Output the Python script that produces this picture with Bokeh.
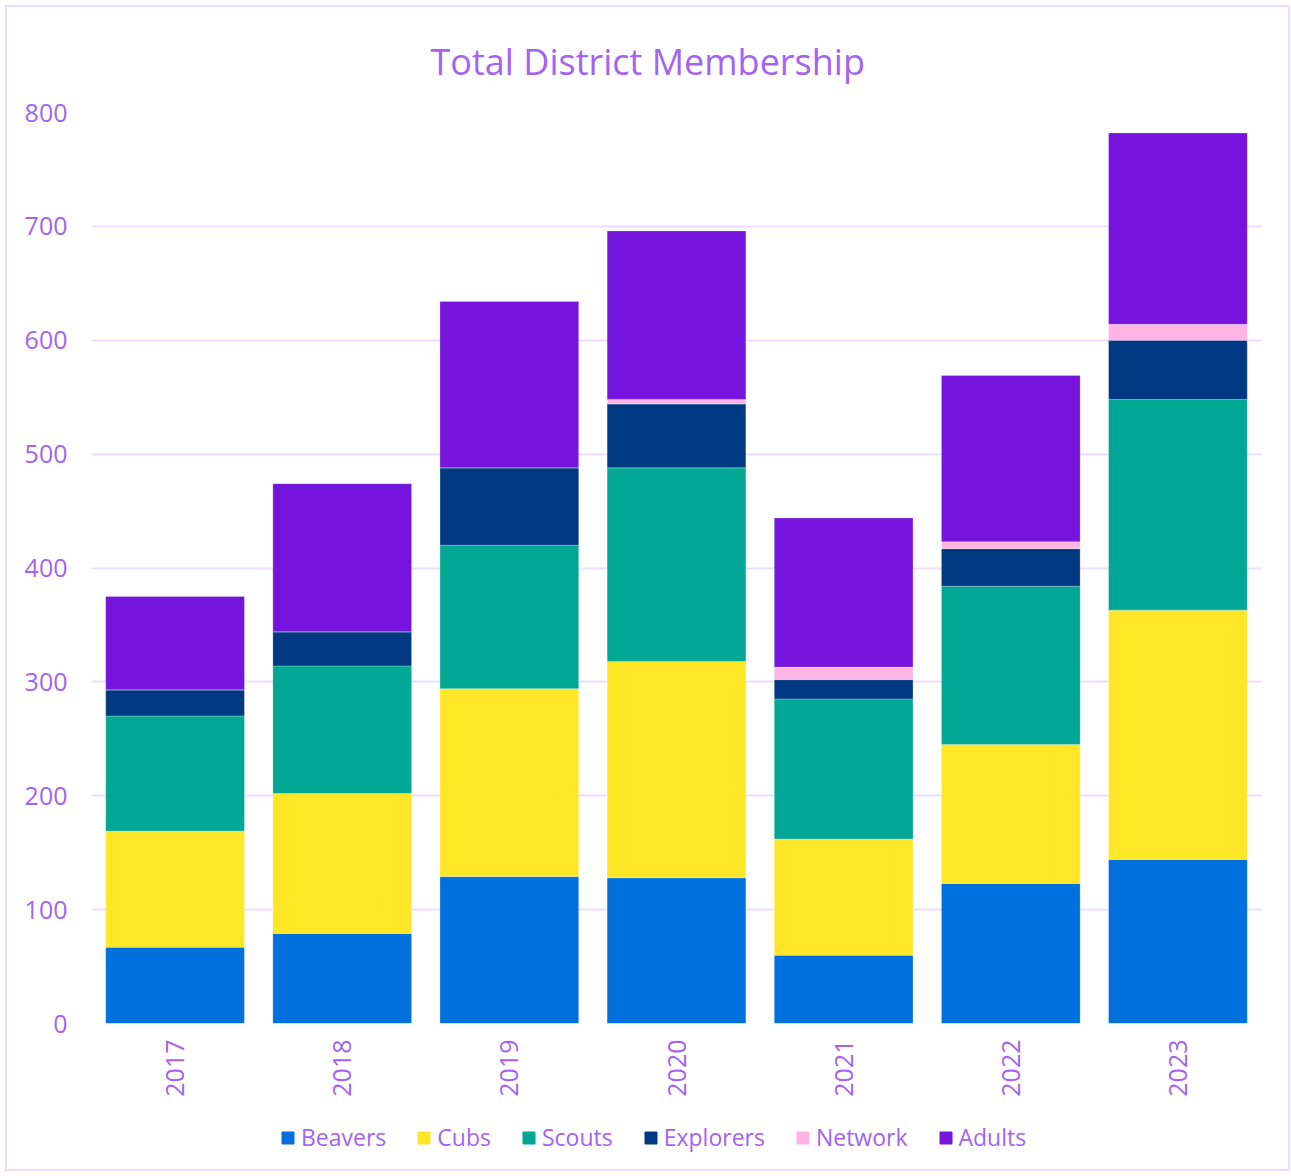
import math
from bokeh.plotting import figure
from bokeh.layouts import column
from bokeh.models import (ColumnDataSource, Legend, LegendItem, SingleIntervalTicker,
                          NumeralTickFormatter, Range1d)
from bokeh.embed import file_html
from bokeh.resources import INLINE

years = ["2017", "2018", "2019", "2020", "2021", "2022", "2023"]
sections = ["Beavers", "Cubs", "Scouts", "Explorers", "Network", "Adults"]
beavers = [67, 79, 129, 128, 60, 123, 144]
cubs = [102, 123, 165, 190, 102, 122, 219]
scouts = [101, 112, 126, 170, 123, 139, 185]
explorers = [23, 30, 68, 56, 17, 33, 52]
network = [0, 0, 0, 4, 11, 6, 14]
adults = [82, 130, 146, 148, 131, 146, 168]
colors = ["#0070DD", "#FFE627", "#00A794", "#003982", "#FFB4E5", "#7414DC"]
title_text = "Total District Membership"

source = ColumnDataSource(dict(year=years, Beavers=beavers, Cubs=cubs, Scouts=scouts,
                               Explorers=explorers, Network=network, Adults=adults))

TXT = "#A463F2"
GRID = "#EDDCFF"
FONT = "Open Sans"

# main chart
p = figure(x_range=years, y_range=(0, 800), width=1281, height=1102,
           output_backend="svg", toolbar_location=None,
           title=title_text,
           min_border_left=84, min_border_right=27, min_border_top=102, min_border_bottom=86)

p.vbar_stack(sections, x="year", width=0.83, color=colors, source=source,
             line_color="white", line_alpha=0.25, line_width=1)

p.title.align = "left"
p.title.text_font = FONT
p.title.text_font_style = "normal"
p.title.text_font_size = "36px"
p.title.text_color = TXT
p.title.offset = 339
p.title.standoff = 54

p.x_range.range_padding = 0
p.xgrid.grid_line_color = None
p.ygrid.grid_line_color = GRID
p.ygrid.grid_line_width = 2
p.yaxis.ticker = SingleIntervalTicker(interval=100)
p.yaxis.formatter = NumeralTickFormatter(format="0")

for ax in (p.xaxis, p.yaxis):
    ax.axis_line_color = None
    ax.major_tick_line_color = None
    ax.minor_tick_line_color = None
    ax.major_label_text_color = TXT
    ax.major_label_text_font = FONT
    ax.major_label_text_font_size = "25px"

p.yaxis.major_label_standoff = 18
p.xaxis.major_label_orientation = math.pi / 2
p.xaxis.major_label_standoff = 10

p.outline_line_color = None
p.background_fill_color = "white"
p.border_fill_color = "white"

# legend strip below the chart
lg = figure(x_range=years, y_range=Range1d(0, 1), width=1281, height=60,
            output_backend="svg", toolbar_location=None,
            x_axis_location=None, y_axis_location=None,
            min_border_left=0, min_border_right=0, min_border_top=0, min_border_bottom=0)
lg.grid.grid_line_color = None
lg.outline_line_color = None
lg.border_fill_color = "white"
lg.background_fill_color = "white"
legend_renderers = lg.vbar_stack(sections, x="year", width=0.83, color=colors, source=source)
for r in legend_renderers:
    r.visible = False

items = [LegendItem(label=s, renderers=[r]) for s, r in zip(sections, legend_renderers)]
legend = Legend(items=items, orientation="horizontal", location=(189, 16),
                label_text_color=TXT, label_text_font=FONT, label_text_font_size="23px",
                glyph_width=15, glyph_height=15, spacing=30, label_standoff=6,
                inactive_fill_alpha=0,
                border_line_color=None, background_fill_alpha=0, margin=0, padding=10)
lg.add_layout(legend, "center")

layout = column(p, lg, spacing=0)
layout.styles = {"border": "2px solid #EDDCFF", "margin": "5px 0 0 5px"}

open("out.html", "w").write(file_html(layout, INLINE))
